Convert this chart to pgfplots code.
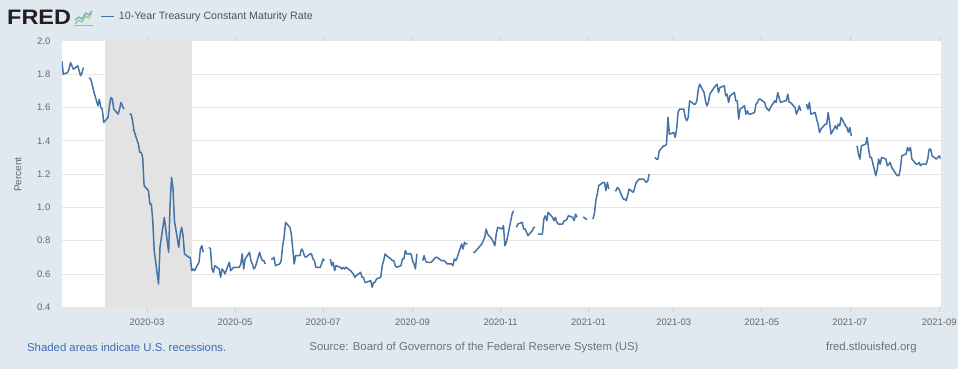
\documentclass[border=0pt]{standalone}
\usepackage{fontspec}
\setmainfont{Liberation Sans}
\usepackage{pgfplots}
\usepackage{pgfplotstable}
\usepgfplotslibrary{dateplot}
\pgfplotsset{compat=1.18}
\definecolor{bgcol}{HTML}{E1E9F0}
\definecolor{linecol}{HTML}{4572A7}
\definecolor{shadecol}{HTML}{E3E3E3}
\definecolor{gridcol}{HTML}{E6E6E6}
\definecolor{labcol}{HTML}{666666}
\definecolor{srccol}{HTML}{707070}
\definecolor{bluetxt}{HTML}{3D6BAE}
\definecolor{logocol}{HTML}{231F20}

\pgfplotstableread{
date rate
2020-01-02 1.88
2020-01-03 1.80
2020-01-06 1.81
2020-01-07 1.83
2020-01-08 1.87
2020-01-09 1.85
2020-01-10 1.83
2020-01-13 1.85
2020-01-14 1.82
2020-01-15 1.79
2020-01-16 1.81
2020-01-17 1.84
2020-01-20 nan
2020-01-21 1.78
2020-01-22 1.77
2020-01-23 1.74
2020-01-24 1.70
2020-01-27 1.61
2020-01-28 1.65
2020-01-29 1.60
2020-01-30 1.59
2020-01-31 1.51
2020-02-03 1.54
2020-02-04 1.61
2020-02-05 1.66
2020-02-06 1.65
2020-02-07 1.59
2020-02-10 1.56
2020-02-11 1.59
2020-02-12 1.63
2020-02-13 1.61
2020-02-14 1.59
2020-02-17 nan
2020-02-18 1.56
2020-02-19 1.56
2020-02-20 1.52
2020-02-21 1.46
2020-02-24 1.38
2020-02-25 1.33
2020-02-26 1.33
2020-02-27 1.30
2020-02-28 1.13
2020-03-02 1.10
2020-03-03 1.02
2020-03-04 1.02
2020-03-05 0.92
2020-03-06 0.74
2020-03-09 0.54
2020-03-10 0.76
2020-03-11 0.82
2020-03-12 0.88
2020-03-13 0.94
2020-03-16 0.73
2020-03-17 1.02
2020-03-18 1.18
2020-03-19 1.12
2020-03-20 0.92
2020-03-23 0.76
2020-03-24 0.84
2020-03-25 0.88
2020-03-26 0.83
2020-03-27 0.72
2020-03-30 0.70
2020-03-31 0.70
2020-04-01 0.62
2020-04-02 0.63
2020-04-03 0.62
2020-04-06 0.67
2020-04-07 0.75
2020-04-08 0.77
2020-04-09 0.73
2020-04-10 nan
2020-04-13 0.76
2020-04-14 0.75
2020-04-15 0.63
2020-04-16 0.61
2020-04-17 0.65
2020-04-20 0.63
2020-04-21 0.58
2020-04-22 0.63
2020-04-23 0.62
2020-04-24 0.60
2020-04-27 0.67
2020-04-28 0.62
2020-04-29 0.63
2020-04-30 0.64
2020-05-01 0.64
2020-05-04 0.64
2020-05-05 0.66
2020-05-06 0.72
2020-05-07 0.63
2020-05-08 0.69
2020-05-11 0.73
2020-05-12 0.68
2020-05-13 0.66
2020-05-14 0.63
2020-05-15 0.64
2020-05-18 0.73
2020-05-19 0.70
2020-05-20 0.68
2020-05-21 0.68
2020-05-22 0.66
2020-05-25 nan
2020-05-26 0.69
2020-05-27 0.69
2020-05-28 0.70
2020-05-29 0.65
2020-06-01 0.66
2020-06-02 0.68
2020-06-03 0.77
2020-06-04 0.82
2020-06-05 0.91
2020-06-08 0.88
2020-06-09 0.84
2020-06-10 0.75
2020-06-11 0.66
2020-06-12 0.71
2020-06-15 0.71
2020-06-16 0.75
2020-06-17 0.74
2020-06-18 0.71
2020-06-19 0.70
2020-06-22 0.72
2020-06-23 0.72
2020-06-24 0.69
2020-06-25 0.68
2020-06-26 0.64
2020-06-29 0.64
2020-06-30 0.66
2020-07-01 0.69
2020-07-02 0.68
2020-07-03 nan
2020-07-06 0.69
2020-07-07 0.65
2020-07-08 0.67
2020-07-09 0.62
2020-07-10 0.65
2020-07-13 0.64
2020-07-14 0.63
2020-07-15 0.64
2020-07-16 0.63
2020-07-17 0.64
2020-07-20 0.62
2020-07-21 0.61
2020-07-22 0.60
2020-07-23 0.58
2020-07-24 0.59
2020-07-27 0.61
2020-07-28 0.58
2020-07-29 0.58
2020-07-30 0.55
2020-07-31 0.55
2020-08-03 0.56
2020-08-04 0.52
2020-08-05 0.55
2020-08-06 0.55
2020-08-07 0.57
2020-08-10 0.58
2020-08-11 0.65
2020-08-12 0.68
2020-08-13 0.72
2020-08-14 0.71
2020-08-17 0.69
2020-08-18 0.68
2020-08-19 0.68
2020-08-20 0.65
2020-08-21 0.64
2020-08-24 0.65
2020-08-25 0.69
2020-08-26 0.69
2020-08-27 0.74
2020-08-28 0.72
2020-08-31 0.72
2020-09-01 0.68
2020-09-02 0.66
2020-09-03 0.63
2020-09-04 0.72
2020-09-07 nan
2020-09-08 0.68
2020-09-09 0.71
2020-09-10 0.68
2020-09-11 0.67
2020-09-14 0.67
2020-09-15 0.68
2020-09-16 0.69
2020-09-17 0.70
2020-09-18 0.70
2020-09-21 0.68
2020-09-22 0.68
2020-09-23 0.68
2020-09-24 0.67
2020-09-25 0.66
2020-09-28 0.66
2020-09-29 0.65
2020-09-30 0.69
2020-10-01 0.68
2020-10-02 0.70
2020-10-05 0.78
2020-10-06 0.75
2020-10-07 0.79
2020-10-08 0.78
2020-10-09 0.78
2020-10-12 nan
2020-10-13 0.73
2020-10-14 0.73
2020-10-15 0.74
2020-10-16 0.75
2020-10-19 0.78
2020-10-20 0.80
2020-10-21 0.82
2020-10-22 0.87
2020-10-23 0.84
2020-10-26 0.81
2020-10-27 0.79
2020-10-28 0.77
2020-10-29 0.84
2020-10-30 0.88
2020-11-02 0.87
2020-11-03 0.89
2020-11-04 0.77
2020-11-05 0.79
2020-11-06 0.83
2020-11-09 0.96
2020-11-10 0.98
2020-11-11 nan
2020-11-12 0.88
2020-11-13 0.90
2020-11-16 0.91
2020-11-17 0.87
2020-11-18 0.87
2020-11-19 0.85
2020-11-20 0.83
2020-11-23 0.86
2020-11-24 0.88
2020-11-25 0.88
2020-11-26 nan
2020-11-27 0.84
2020-11-30 0.84
2020-12-01 0.93
2020-12-02 0.95
2020-12-03 0.92
2020-12-04 0.97
2020-12-07 0.94
2020-12-08 0.92
2020-12-09 0.94
2020-12-10 0.91
2020-12-11 0.90
2020-12-14 0.90
2020-12-15 0.92
2020-12-16 0.92
2020-12-17 0.93
2020-12-18 0.95
2020-12-21 0.94
2020-12-22 0.92
2020-12-23 0.96
2020-12-24 0.94
2020-12-25 nan
2020-12-28 0.94
2020-12-29 0.94
2020-12-30 0.93
2020-12-31 0.93
2021-01-01 nan
2021-01-04 0.93
2021-01-05 0.96
2021-01-06 1.04
2021-01-07 1.08
2021-01-08 1.13
2021-01-11 1.15
2021-01-12 1.15
2021-01-13 1.10
2021-01-14 1.15
2021-01-15 1.11
2021-01-18 nan
2021-01-19 1.10
2021-01-20 1.10
2021-01-21 1.12
2021-01-22 1.11
2021-01-25 1.05
2021-01-26 1.05
2021-01-27 1.04
2021-01-28 1.07
2021-01-29 1.11
2021-02-01 1.09
2021-02-02 1.12
2021-02-03 1.15
2021-02-04 1.16
2021-02-05 1.17
2021-02-08 1.17
2021-02-09 1.16
2021-02-10 1.15
2021-02-11 1.16
2021-02-12 1.20
2021-02-15 nan
2021-02-16 1.30
2021-02-17 1.29
2021-02-18 1.29
2021-02-19 1.34
2021-02-22 1.37
2021-02-23 1.37
2021-02-24 1.38
2021-02-25 1.54
2021-02-26 1.44
2021-03-01 1.45
2021-03-02 1.42
2021-03-03 1.47
2021-03-04 1.57
2021-03-05 1.59
2021-03-08 1.59
2021-03-09 1.54
2021-03-10 1.52
2021-03-11 1.54
2021-03-12 1.64
2021-03-15 1.62
2021-03-16 1.62
2021-03-17 1.64
2021-03-18 1.71
2021-03-19 1.74
2021-03-22 1.69
2021-03-23 1.64
2021-03-24 1.61
2021-03-25 1.63
2021-03-26 1.68
2021-03-29 1.72
2021-03-30 1.73
2021-03-31 1.74
2021-04-01 1.69
2021-04-02 1.72
2021-04-05 1.73
2021-04-06 1.67
2021-04-07 1.68
2021-04-08 1.63
2021-04-09 1.67
2021-04-12 1.69
2021-04-13 1.64
2021-04-14 1.64
2021-04-15 1.53
2021-04-16 1.59
2021-04-19 1.61
2021-04-20 1.56
2021-04-21 1.58
2021-04-22 1.56
2021-04-23 1.56
2021-04-26 1.57
2021-04-27 1.62
2021-04-28 1.63
2021-04-29 1.65
2021-04-30 1.65
2021-05-03 1.63
2021-05-04 1.60
2021-05-05 1.59
2021-05-06 1.58
2021-05-07 1.60
2021-05-10 1.64
2021-05-11 1.63
2021-05-12 1.69
2021-05-13 1.66
2021-05-14 1.63
2021-05-17 1.64
2021-05-18 1.64
2021-05-19 1.68
2021-05-20 1.63
2021-05-21 1.63
2021-05-24 1.60
2021-05-25 1.56
2021-05-26 1.58
2021-05-27 1.61
2021-05-28 1.58
2021-05-31 nan
2021-06-01 1.62
2021-06-02 1.59
2021-06-03 1.63
2021-06-04 1.56
2021-06-07 1.57
2021-06-08 1.53
2021-06-09 1.50
2021-06-10 1.45
2021-06-11 1.47
2021-06-14 1.50
2021-06-15 1.50
2021-06-16 1.57
2021-06-17 1.51
2021-06-18 1.44
2021-06-21 1.49
2021-06-22 1.47
2021-06-23 1.50
2021-06-24 1.49
2021-06-25 1.54
2021-06-28 1.49
2021-06-29 1.48
2021-06-30 1.45
2021-07-01 1.48
2021-07-02 1.43
2021-07-05 nan
2021-07-06 1.37
2021-07-07 1.32
2021-07-08 1.29
2021-07-09 1.37
2021-07-12 1.38
2021-07-13 1.42
2021-07-14 1.35
2021-07-15 1.30
2021-07-16 1.30
2021-07-19 1.19
2021-07-20 1.23
2021-07-21 1.29
2021-07-22 1.26
2021-07-23 1.30
2021-07-26 1.29
2021-07-27 1.25
2021-07-28 1.26
2021-07-29 1.27
2021-07-30 1.24
2021-08-02 1.20
2021-08-03 1.19
2021-08-04 1.19
2021-08-05 1.23
2021-08-06 1.31
2021-08-09 1.32
2021-08-10 1.36
2021-08-11 1.34
2021-08-12 1.36
2021-08-13 1.29
2021-08-16 1.26
2021-08-17 1.26
2021-08-18 1.27
2021-08-19 1.25
2021-08-20 1.26
2021-08-23 1.26
2021-08-24 1.29
2021-08-25 1.35
2021-08-26 1.35
2021-08-27 1.31
2021-08-30 1.29
2021-08-31 1.30
2021-09-01 1.31
2021-09-02 1.29
}\dgsten

\begin{document}
\begin{tikzpicture}[x=1pt,y=1pt]
% background
\fill[bgcol] (0,0) rectangle (960,370);
% header: logo
\node[anchor=west, inner sep=0pt, text=logocol] at (7,352.5)
  {\scalebox{1.12}[1]{\fontsize{21}{21}\selectfont\bfseries FRED}};
\draw[line width=1.1pt, color=green!45!gray!70] (75,346) -- (79,350) -- (82,348) -- (86,354) -- (89,352) -- (92,357);
\draw[line width=1.1pt, color=linecol!70] (75,350) -- (79,353) -- (82,351) -- (86,357) -- (89,355) -- (92,359);
\draw[line width=0.6pt, color=gray!60] (74,345) -- (93,345);
% legend
\draw[linecol, line width=1.8pt] (101,353.5) -- (114,353.5);
\node[anchor=west, inner sep=0pt, text=labcol!80!black] at (119,353.5)
  {\fontsize{10.7}{12}\selectfont 10-Year Treasury Constant Maturity Rate};
% y label
\node[rotate=90, text=labcol, inner sep=0pt] at (18,195) {\fontsize{10}{12}\selectfont Percent};
\begin{axis}[
  at={(62pt,62pt)}, anchor=south west,
  scale only axis, width=881pt, height=267pt,
  date coordinates in=x, date ZERO=2020-01-01,
  xmin=2020-01-02, xmax=2021-09-02,
  ymin=0.4, ymax=2.0,
  unbounded coords=jump,
  axis background/.style={fill=white},
  axis line style={draw=none},
  ytick={0.4,0.6,0.8,1.0,1.2,1.4,1.6,1.8,2.0},
  yticklabels={0.4,0.6,0.8,1.0,1.2,1.4,1.6,1.8,2.0},
  xtick={2020-03-01,2020-05-01,2020-07-01,2020-09-01,2020-11-01,2021-01-01,2021-03-01,2021-05-01,2021-07-01,2021-09-01},
  xticklabels={2020-03,2020-05,2020-07,2020-09,2020-11,2021-01,2021-03,2021-05,2021-07,2021-09},
  ymajorgrids,
  major grid style={draw=gridcol, line width=0.9pt},
  tick align=outside,
  major tick length=5pt,
  xtick style={draw=gridcol!80!gray, line width=0.6pt},
  ytick style={draw=none},
  xticklabel style={font=\fontsize{9.5}{11}\selectfont, text=labcol, yshift=-3pt},
  yticklabel style={font=\fontsize{9.5}{11}\selectfont, text=labcol, xshift=-3pt},
]
\addplot[fill=shadecol, draw=none, forget plot]
  coordinates {(2020-02-01,0.4) (2020-02-01,2.0) (2020-04-01,2.0) (2020-04-01,0.4)} -- cycle;
\addplot[linecol, line width=1.5pt, line join=round, no marks] table[x=date, y=rate] {\dgsten};
\end{axis}
% footer
\node[anchor=west, inner sep=0pt, text=bluetxt] at (27,22) {\fontsize{11.4}{13}\selectfont Shaded areas indicate U.S. recessions.};
\node[anchor=west, inner sep=0pt, text=srccol] at (310,22) {\fontsize{11.4}{13}\selectfont Source: Board of Governors of the Federal Reserve System (US)};
\node[anchor=east, inner sep=0pt, text=srccol] at (919,22) {\fontsize{11.4}{13}\selectfont fred.stlouisfed.org};
\end{tikzpicture}
\end{document}
